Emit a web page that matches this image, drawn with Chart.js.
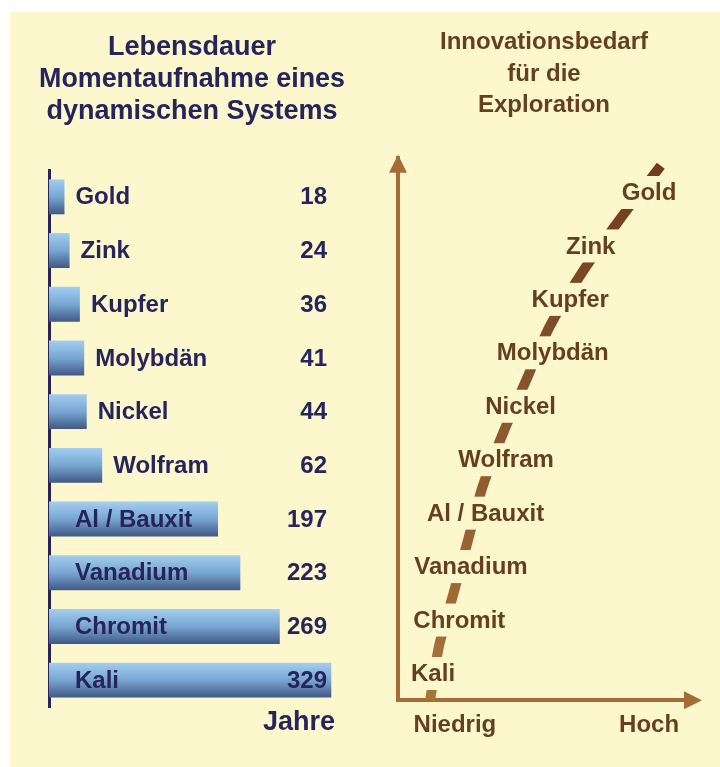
<!DOCTYPE html>
<html>
<head>
<meta charset="utf-8">
<script src="https://cdn.jsdelivr.net/npm/chart.js@4.4.1/dist/chart.umd.min.js"></script>
<style>
  html, body { margin: 0; padding: 0; background: #fff; width: 720px; height: 767px; overflow: hidden; }
  #panel { position: absolute; left: 10px; top: 12px; width: 710px; height: 755px; background: #fcf7cc; }
  canvas { position: absolute; top: 0; }
  #left { left: 0; }
  #right { left: 370px; }
</style>
</head>
<body>
<div id="panel"></div>
<canvas id="left" width="360" height="767"></canvas>
<canvas id="right" width="350" height="767"></canvas>
<script>
// data
const minerals = ['Gold', 'Zink', 'Kupfer', 'Molybdän', 'Nickel', 'Wolfram', 'Al / Bauxit', 'Vanadium', 'Chromit', 'Kali'];
const lifetimeYears = [18, 24, 36, 41, 44, 62, 197, 223, 269, 329];
// where each name sits on the "Innovationsbedarf" axis (0 = niedrig, 100 = hoch)
const innovationNeed = [86, 66, 59, 53, 42, 37, 30, 25, 21, 12];
// the dashed trend curve, one point per row boundary (bottom to top)
const curveLevel = [0, 1, 2, 3, 4, 5, 6, 7, 8, 9, 10];
const curveNeed = [11, 14, 19, 24, 29, 36, 44, 52, 63, 76, 90];
const needTicks = [19.5, 86];
const needTickLabels = ['Niedrig', 'Hoch'];
const leftTitle = ['Lebensdauer', 'Momentaufnahme eines', 'dynamischen Systems'];
const rightTitle = ['Innovationsbedarf', 'für die', 'Exploration'];
const yearsLabel = 'Jahre';

const panelBg = '#fcf7cc';
const navy = '#27245c';
const brownText = '#653f1f';
const axisBrown = '#a56d35';
const fontFamily = '"Liberation Sans", Arial, Helvetica, sans-serif';

Chart.defaults.font.family = fontFamily;

// blue bars, light on top, dark at the bottom edge
function barFill(c) {
  const chart = c.chart;
  const area = chart.chartArea;
  if (!area || c.type !== 'data') return '#7aaad6';
  const y = chart.scales.y.getPixelForValue(c.dataIndex);
  const half = (area.height / minerals.length) * 0.65 / 2;
  const g = chart.ctx.createLinearGradient(0, y - half, 0, y + half);
  g.addColorStop(0, '#a3cef0');
  g.addColorStop(0.5, '#78a6d2');
  g.addColorStop(1, '#405884');
  return g;
}

function curveFill(c) {
  const area = c.chart.chartArea;
  if (!area) return '#8a562b';
  const g = c.chart.ctx.createLinearGradient(0, area.bottom, 0, area.top);
  g.addColorStop(0, '#a9743a');
  g.addColorStop(1, '#6e3b20');
  return g;
}

// names and values next to the bars, unit under the value column
const barLabels = {
  id: 'barLabels',
  afterDatasetsDraw(chart) {
    const ctx = chart.ctx;
    const area = chart.chartArea;
    const bars = chart.getDatasetMeta(0).data;
    ctx.save();
    ctx.font = 'bold 24px ' + fontFamily;
    ctx.fillStyle = navy;
    ctx.textBaseline = 'middle';
    bars.forEach((bar, i) => {
      const name = minerals[i];
      const w = ctx.measureText(name).width;
      const inside = bar.x - (area.left + 26) > w + 10;
      ctx.textAlign = 'left';
      ctx.fillText(name, inside ? area.left + 26 : bar.x + 11, bar.y + 1);
      ctx.textAlign = 'right';
      ctx.fillText(String(lifetimeYears[i]), area.left + 278, bar.y + 1);
    });
    ctx.font = 'bold 27px ' + fontFamily;
    ctx.textAlign = 'right';
    ctx.fillText(yearsLabel, area.left + 286, area.bottom + 16);
    ctx.restore();
  }
};

// names on the curve, each cutting a gap into it
const needLabels = {
  id: 'needLabels',
  afterDatasetsDraw(chart) {
    const ctx = chart.ctx;
    const pts = chart.getDatasetMeta(1).data;
    ctx.save();
    ctx.font = 'bold 24px ' + fontFamily;
    ctx.textAlign = 'center';
    ctx.textBaseline = 'middle';
    pts.forEach((pt, i) => {
      const w = ctx.measureText(minerals[i]).width;
      ctx.fillStyle = panelBg;
      ctx.fillRect(pt.x - w / 2 - 8, pt.y - 16.5, w + 16, 33);
      ctx.fillStyle = brownText;
      ctx.fillText(minerals[i], pt.x, pt.y + 1);
    });
    ctx.restore();
  }
};

const axisArrows = {
  id: 'axisArrows',
  afterDraw(chart) {
    const ctx = chart.ctx;
    const {left, right, top, bottom} = chart.chartArea;
    ctx.save();
    ctx.fillStyle = axisBrown;
    ctx.beginPath();
    ctx.moveTo(left, top - 3);
    ctx.lineTo(left - 9, top + 15);
    ctx.lineTo(left + 9, top + 15);
    ctx.closePath();
    ctx.fill();
    ctx.beginPath();
    ctx.moveTo(right + 12, bottom);
    ctx.lineTo(right - 6, bottom - 9);
    ctx.lineTo(right - 6, bottom + 9);
    ctx.closePath();
    ctx.fill();
    ctx.restore();
  }
};

// left: lifetime bars
new Chart(document.getElementById('left'), {
  type: 'bar',
  data: {
    labels: minerals,
    datasets: [{
      data: lifetimeYears,
      backgroundColor: barFill,
      borderWidth: 0,
      categoryPercentage: 1,
      barPercentage: 0.65
    }]
  },
  options: {
    indexAxis: 'y',
    responsive: false,
    animation: false,
    devicePixelRatio: 1,
    layout: { padding: { left: 39, right: 15, top: 0, bottom: 60 } },
    plugins: {
      legend: { display: false },
      tooltip: { enabled: false },
      title: {
        display: true,
        text: leftTitle,
        color: navy,
        font: { size: 27, weight: 'bold', lineHeight: 1.2 },
        padding: { top: 31, bottom: 41.8 }
      }
    },
    scales: {
      x: {
        display: false,
        min: 0,
        max: 345
      },
      y: {
        afterFit: s => { s.width = 10; },
        ticks: { display: false },
        grid: { display: false, drawTicks: false },
        border: { display: true, color: navy, width: 3 }
      }
    }
  },
  plugins: [barLabels]
});

// right: innovation need
new Chart(document.getElementById('right'), {
  type: 'scatter',
  data: {
    datasets: [
      {
        type: 'line',
        data: curveLevel.map((lv, i) => ({ x: curveNeed[i], y: lv })),
        borderColor: curveFill,
        borderWidth: 10,
        borderCapStyle: 'butt',
        pointRadius: 0,
        tension: 0.3,
        fill: false,
        clip: 0
      },
      {
        data: minerals.map((m, i) => ({ x: innovationNeed[i], y: minerals.length - 0.5 - i })),
        pointRadius: 0,
        showLine: false
      }
    ]
  },
  options: {
    responsive: false,
    animation: false,
    devicePixelRatio: 1,
    layout: { padding: { left: 28, right: 30, top: 0, bottom: 16 } },
    plugins: {
      legend: { display: false },
      tooltip: { enabled: false },
      title: {
        display: true,
        text: rightTitle,
        color: brownText,
        font: { size: 24, weight: 'bold', lineHeight: 1.33 },
        padding: { top: 26, bottom: 36 }
      }
    },
    scales: {
      x: {
        type: 'linear',
        min: 0,
        max: 100,
        afterBuildTicks: s => { s.ticks = needTicks.map(v => ({ value: v })); },
        ticks: {
          callback: (v, i) => needTickLabels[i],
          color: brownText,
          font: { size: 24, weight: 'bold' },
          padding: 11,
          maxRotation: 0,
          autoSkip: false
        },
        grid: { display: false, drawTicks: false },
        border: { display: true, color: axisBrown, width: 4 }
      },
      y: {
        type: 'linear',
        min: 0,
        max: 10.15,
        ticks: { display: false },
        grid: { display: false, drawTicks: false },
        border: { display: true, color: axisBrown, width: 4 }
      }
    }
  },
  plugins: [needLabels, axisArrows]
});
</script>
</body>
</html>
